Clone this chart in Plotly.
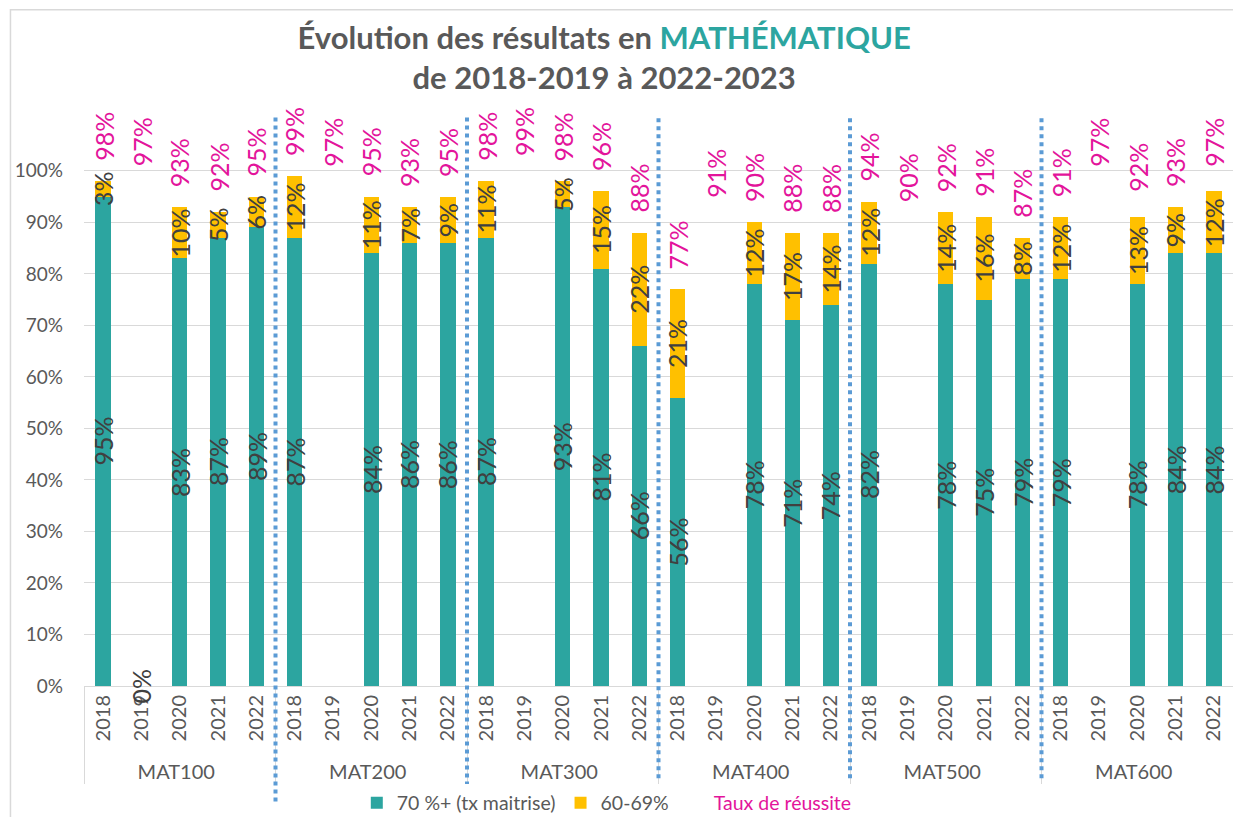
import plotly.graph_objects as go

groups = ["MAT100", "MAT200", "MAT300", "MAT400", "MAT500", "MAT600"]
years = ["2018", "2019", "2020", "2021", "2022"]

maitrise = {
    "MAT100": [95, 0, 83, 87, 89],
    "MAT200": [87, None, 84, 86, 86],
    "MAT300": [87, None, 93, 81, 66],
    "MAT400": [56, None, 78, 71, 74],
    "MAT500": [82, None, 78, 75, 79],
    "MAT600": [79, None, 78, 84, 84],
}
partiel = {
    "MAT100": [3, None, 10, 5, 6],
    "MAT200": [12, None, 11, 7, 9],
    "MAT300": [11, None, 5, 15, 22],
    "MAT400": [21, None, 12, 17, 14],
    "MAT500": [12, None, 14, 16, 8],
    "MAT600": [12, None, 13, 9, 12],
}
taux = {
    "MAT100": [98, 97, 93, 92, 95],
    "MAT200": [99, 97, 95, 93, 95],
    "MAT300": [98, 99, 98, 96, 88],
    "MAT400": [77, 91, 90, 88, 88],
    "MAT500": [94, 90, 92, 91, 87],
    "MAT600": [91, 97, 92, 93, 97],
}

TEAL = "#2CA5A0"
YELLOW = "#FFC000"
MAGENTA = "#E3149B"
GREY = "#595959"
DARK = "#404040"
FONT = "Lato"

xg, xy, m_vals, p_vals, t_vals = [], [], [], [], []
for g in groups:
    for k, y in enumerate(years):
        xg.append(g)
        xy.append(y)
        m_vals.append(None if maitrise[g][k] is None else maitrise[g][k] / 100)
        p_vals.append(None if partiel[g][k] is None else partiel[g][k] / 100)
        t_vals.append(taux[g][k] / 100)

n = len(xg)

fig = go.Figure()
fig.add_trace(go.Bar(x=[xg, xy], y=m_vals, name="70 %+ (tx maitrise)",
                     marker=dict(color=TEAL, line=dict(width=0))))
fig.add_trace(go.Bar(x=[xg, xy], y=p_vals, name="60-69%",
                     marker=dict(color=YELLOW, line=dict(width=0))))
fig.add_trace(go.Scatter(x=[xg, xy], y=t_vals, mode="markers",
                         name=f"<span style='color:{MAGENTA}'>Taux de réussite</span>",
                         marker=dict(size=1, color="rgba(0,0,0,0)"), hoverinfo="y"))

ann = []
for i in range(n):
    m, p, t = m_vals[i], p_vals[i], t_vals[i]
    if m is not None:
        ann.append(dict(x=i, y=m / 2, xref="x", yref="y", text=f"{round(m*100)}%",
                        textangle=-90, showarrow=False, xanchor="center", yanchor="middle",
                        font=dict(family=FONT, size=25, color=DARK)))
    if p is not None:
        ann.append(dict(x=i, y=m + p / 2, xref="x", yref="y", text=f"{round(p*100)}%",
                        textangle=-90, showarrow=False, xanchor="center", yanchor="middle",
                        font=dict(family=FONT, size=25, color=DARK)))
    ann.append(dict(x=i, y=t, xref="x", yref="y", text=f"{round(t*100)}%",
                    textangle=-90, showarrow=False, xanchor="center", yanchor="bottom",
                    yshift=18, font=dict(family=FONT, size=25, color=MAGENTA)))

shapes = []
for k in range(1, len(groups)):
    xpos = k * len(years) - 0.5
    shapes.append(dict(type="line", xref="x", yref="paper", x0=xpos, x1=xpos,
                       y0=-0.2 if k <= 2 else -0.16, y1=0.99,
                       line=dict(color="#5B9BD5", width=4, dash="dot"), layer="above"))
shapes.append(dict(type="rect", xref="paper", yref="paper", x0=-0.064, x1=1.02,
                   y0=-0.4, y1=1.172, line=dict(color="#D9D9D9", width=1.5),
                   fillcolor="rgba(0,0,0,0)", layer="below"))

fig.update_layout(
    width=1233, height=817,
    barmode="stack", bargap=0.6,
    plot_bgcolor="white", paper_bgcolor="white",
    margin=dict(l=84, r=0, t=109, b=131, autoexpand=False),
    font=dict(family=FONT, color=GREY),
    title=dict(
        text=f"<b>Évolution des résultats en <span style='color:{TEAL}'>MATHÉMATIQUE</span><br>de 2018-2019 à 2022-2023</b>",
        x=0.49, xanchor="center", y=0.94, yanchor="top",
        font=dict(family=FONT, size=31, color=GREY)),
    xaxis=dict(type="multicategory", tickangle=-90, showgrid=False, automargin=False,
               range=[-0.5, n - 0.5],
               tickfont=dict(family=FONT, size=20, color=GREY),
               showline=True, linecolor="#D9D9D9", linewidth=1,
               showdividers=True, dividercolor="#D9D9D9", dividerwidth=1,
               ticks=""),
    yaxis=dict(range=[0, 1.12], tickvals=[i / 10 for i in range(11)], automargin=False,
               tickformat=".0%", showgrid=True, gridcolor="#D9D9D9", gridwidth=1,
               zeroline=False, tickfont=dict(family=FONT, size=19, color=GREY),
               ticklabelstandoff=20),
    legend=dict(orientation="h", x=0.455, xanchor="center", y=-0.203, yanchor="middle",
                font=dict(family=FONT, size=19.5, color=GREY), traceorder="normal",
                itemwidth=30),
    annotations=ann, shapes=shapes, showlegend=True,
)

fig.write_html("out.html", config={"displayModeBar": False},
               post_script="document.body.style.margin='0';")
